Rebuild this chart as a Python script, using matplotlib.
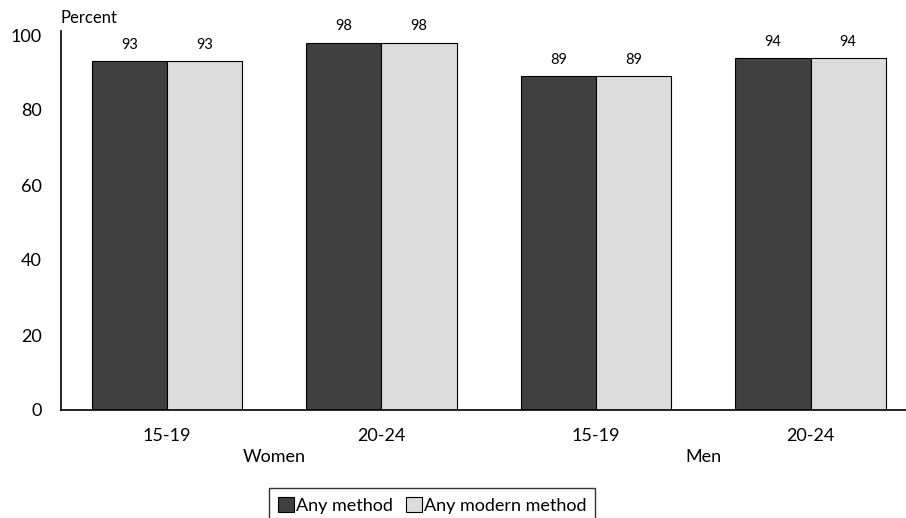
import numpy as np
import matplotlib
matplotlib.use('Agg')
import matplotlib.pyplot as plt

plt.rcParams['font.family'] = ['Lato', 'DejaVu Sans']

age_groups = ['15-19', '20-24', '15-19', '20-24']
sex_labels = ['Women', 'Men']
any_method = [93, 98, 89, 94]
any_modern = [93, 98, 89, 94]
yticks = [0, 20, 40, 60, 80, 100]

W, H = 906, 518
fig = plt.figure(figsize=(W / 100, H / 100), dpi=100)
ax = fig.add_axes([61 / W, 1 - 410 / H, (W - 61) / W, 375 / H])

x = np.arange(len(age_groups))
bw = 0.35
b1 = ax.bar(x - bw / 2, any_method, bw, color='#404040', edgecolor='black', linewidth=0.8, label='Any method')
b2 = ax.bar(x + bw / 2, any_modern, bw, color='#dcdcdc', edgecolor='black', linewidth=0.8, label='Any modern method')

for bars in (b1, b2):
    for r in bars:
        ax.text(r.get_x() + r.get_width() / 2, r.get_height() + 2.4, f'{r.get_height():.0f}',
                ha='center', va='bottom', fontsize=10.5)

ax.set_xlim(-0.494, 3.445)
ax.set_ylim(0, 100)
ax.set_yticks(yticks)
ax.set_xticks(x)
ax.set_xticklabels(age_groups, fontsize=13)
ax.tick_params(axis='y', length=0, pad=14, labelsize=13)
ax.tick_params(axis='x', length=0, pad=13)
for s in ['top', 'right']:
    ax.spines[s].set_visible(False)
ax.spines['left'].set_bounds(0, 101)
ax.spines['left'].set_linewidth(1.2)
ax.spines['bottom'].set_linewidth(1.2)
ax.spines['left'].set_clip_on(False)

ax.text(0, 102.5, 'Percent', transform=ax.get_yaxis_transform(), fontsize=12, va='bottom', ha='left')

for i, lab in enumerate(sex_labels):
    ax.text(2 * i + 0.5, -10.5, lab, ha='center', va='top', fontsize=13)

fig.legend(handles=[b1, b2], loc='upper left', bbox_to_anchor=(269 / W, 1 - 488 / H),
           ncol=2, frameon=True, fancybox=False, edgecolor='black', fontsize=13,
           handlelength=0.9, handleheight=0.9, handletextpad=0.1, columnspacing=0.7,
           borderpad=0.5, borderaxespad=0)

fig.savefig('out.png', dpi=100)
